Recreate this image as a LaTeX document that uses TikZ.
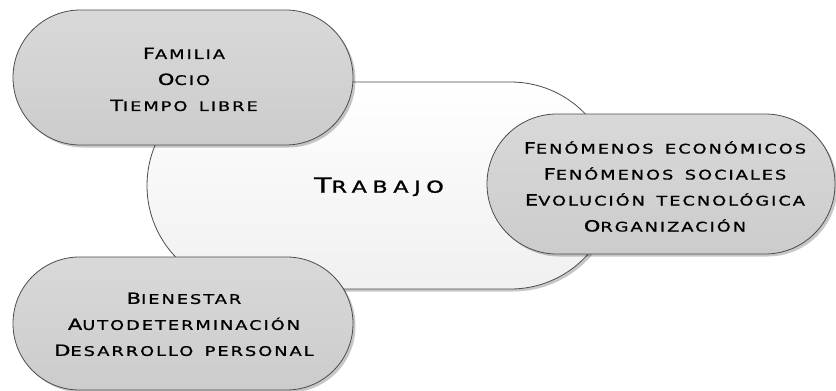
\documentclass[tikz,border=0pt]{standalone}
\usepackage{fontspec}
\usepackage{graphicx}
\usetikzlibrary{shadows}
\newfontfamily\tf[LetterSpace=11,FakeBold=0.8,WordSpace=1.5]{DejaVu Sans}
\newfontfamily\tfb[LetterSpace=25,FakeBold=1.0]{DejaVu Sans}
\newcommand\Cp[1]{{\fontsize{15.5}{26}\selectfont #1}}
\newcommand\Ct[1]{{\fontsize{21}{26}\selectfont #1}}
\newcommand\Ln[1]{\scalebox{1.35}[1]{#1}}
\begin{document}
\begin{tikzpicture}[x=1pt,y=-1pt,
  shad/.style={drop shadow={shadow xshift=2.5pt, shadow yshift=-2.5pt, fill=black, opacity=0.22}},
  blob/.style={rectangle, draw=black!70, line width=0.8pt, top color=gray!30, bottom color=gray!40, shad},
  hub/.style={rectangle, draw=black!70, line width=0.8pt, top color=white, bottom color=gray!12, shad},
  txt/.style={align=center, font=\tf\fontsize{13.2}{26}\selectfont, inner sep=0pt, text=black},
  hubtxt/.style={inner sep=0pt, font=\tfb\fontsize{16.5}{20}\selectfont, text=black},
]
\useasboundingbox (0,0) rectangle (836,391);
\node[hub, minimum width=467pt, minimum height=207pt, rounded corners=103.4pt] (hub) at (380.5,185.5) {};
\node[blob, minimum width=340pt, minimum height=135pt, rounded corners=67.4pt] (tl) at (183,77.5) {};
\node[blob, minimum width=348pt, minimum height=140pt, rounded corners=69.9pt] (rt) at (661,184) {};
\node[blob, minimum width=340pt, minimum height=133pt, rounded corners=66.4pt] (bl) at (183,323.5) {};
\node[hubtxt] (hubt) at (379,186.7) {\Ln{\Ct{T}RABAJO}};
\node[txt] (tlt) at (184,79.4) {\Ln{\Cp{F}AMILIA}\\\Ln{\Cp{O}CIO}\\\Ln{\Cp{T}IEMPO LIBRE}};
\node[txt] (rtt) at (665,186.5) {\Ln{\Cp{F}ENÓMENOS ECONÓMICOS}\\\Ln{\Cp{F}ENÓMENOS SOCIALES}\\\Ln{\Cp{E}VOLUCIÓN TECNOLÓGICA}\\\Ln{\Cp{O}RGANIZACIÓN}};
\node[txt] (blt) at (184,324.3) {\Ln{\Cp{B}IENESTAR}\\\Ln{\Cp{A}UTODETERMINACIÓN}\\\Ln{\Cp{D}ESARROLLO PERSONAL}};
\end{tikzpicture}
\end{document}
